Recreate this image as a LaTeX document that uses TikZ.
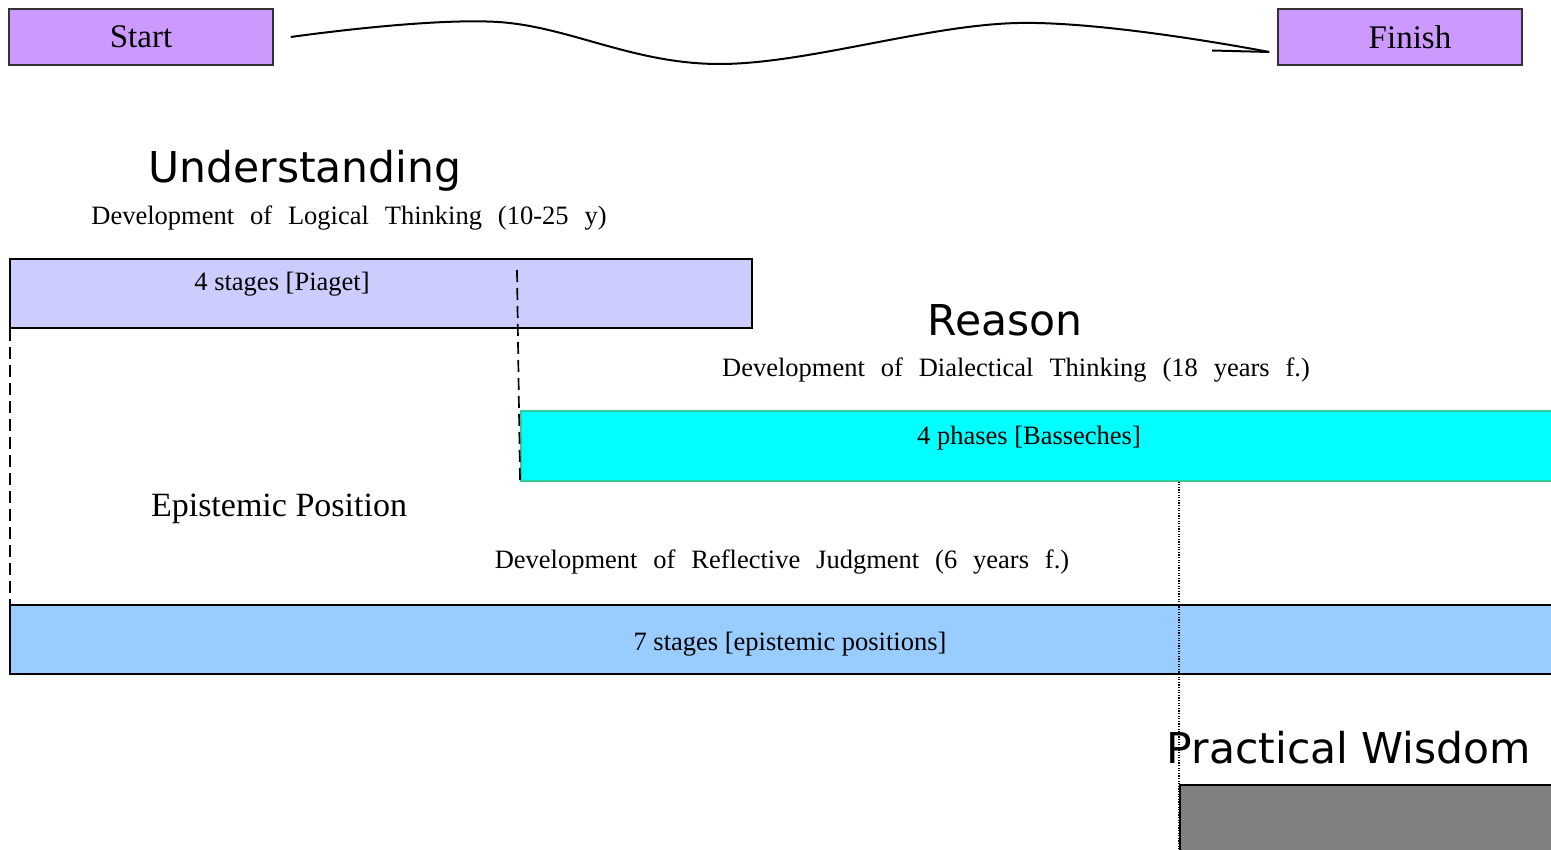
\documentclass[tikz,border=0pt]{standalone}
\usepackage{fontspec}
\setmainfont{Liberation Serif}
\newfontfamily\titlefont{DejaVu Sans}
\newfontfamily\widefont[WordSpace=2.4]{Liberation Serif}
\usetikzlibrary{calc}
\definecolor{boxpurple}{HTML}{CC99FF}
\definecolor{piagetfill}{HTML}{CCCCFF}
\definecolor{phasefill}{HTML}{00FFFF}
\definecolor{phaseedge}{HTML}{33CC99}
\definecolor{epistfill}{HTML}{99CCFF}
\definecolor{wisdomfill}{HTML}{808080}

\begin{document}
\begin{tikzpicture}[x=1pt,y=-1pt,
  endbox/.style={draw=black!80, line width=1.6pt, fill=boxpurple, minimum height=56pt,
    inner sep=0pt, font=\fontsize{33}{36}\selectfont},
  bar/.style={anchor=north west, inner sep=0pt, minimum height=69pt},
  barlabel/.style={font=\fontsize{26.5}{30}\selectfont},
  sublabel/.style={font=\widefont\fontsize{26.5}{30}\selectfont},
  heading/.style={font=\titlefont\fontsize{42.5}{46}\selectfont},
  guide/.style={line width=1.7pt, dash pattern=on 12pt off 6pt},
  fine/.style={line width=1.4pt, dash pattern=on 1.3pt off 1.3pt},
]
\useasboundingbox (0,0) rectangle (1551,850);
\clip (0,0) rectangle (1551,850);

% start and finish boxes
\node[endbox, minimum width=264pt] (start) at (141,37) {Start};
\node[endbox, minimum width=244pt] (finish) at (1400,37) {\hspace*{20pt}Finish};

% wavy path between them
\coordinate (w0) at ($(start.east)+(17,0)$);
\coordinate (w1) at (498,22);
\coordinate (w2) at (719,64);
\coordinate (w3) at (1018,23);
\coordinate (tip) at ($(finish.west)+(-8,15)$);
\draw[line width=2pt] plot[smooth, tension=0.6] coordinates {(w0) (w1) (w2) (w3) (tip)};
\draw[line width=2pt] (tip) -- ++(-57,-1.5);

% bars
\node[bar, draw=black, line width=2pt, fill=piagetfill, minimum width=742pt] (piaget) at (9,258) {};
\node[bar, draw=phaseedge, line width=1.5pt, fill=phasefill, minimum width=1100pt, minimum height=70pt] (phase) at (520,410) {};
\node[bar, draw=black, line width=1.8pt, fill=epistfill, minimum width=1600pt] (epist) at (9,604) {};
\node[bar, draw=black, line width=1.8pt, fill=wisdomfill, minimum width=400pt, minimum height=100pt] (wisdom) at (1179,784) {};

% guide lines
\coordinate (pdiv) at (517,270);
\draw[guide] ([xshift=1pt]piaget.south west) -- ([xshift=1pt]epist.north west);
\draw[guide] (pdiv) -- (phase.south west);
\draw[fine] (phase.south -| wisdom.west) -- (wisdom.south west);

% headings and labels
\node[heading] (und) at (305,171) {Understanding};
\node[sublabel] (undsub) at (349,218) {Development of Logical Thinking (10-25 y)};
\node[barlabel] (piagetlab) at (282,284) {4 stages [Piaget]};

\node[heading] (rea) at (1005,320) {Reason};
\node[sublabel] (reasub) at (1016,370) {Development of Dialectical Thinking (18 years f.)};
\node[barlabel] (phaselab) at (1029,438) {4 phases [Basseches]};

\node[font=\fontsize{34}{38}\selectfont] (epi) at (279,509) {Epistemic Position};
\node[sublabel] (episub) at (782,562) {Development of Reflective Judgment (6 years f.)};
\node[barlabel] (epistlab) at (790,644) {7 stages [epistemic positions]};

\node[heading] (wis) at (1349,748) {Practical Wisdom};
\end{tikzpicture}
\end{document}
